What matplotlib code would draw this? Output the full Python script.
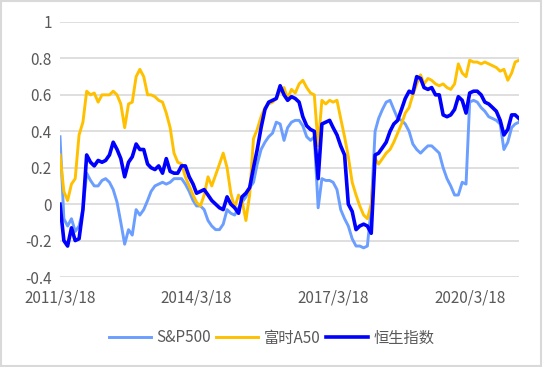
import numpy as np
import pandas as pd
import matplotlib
matplotlib.use('Agg')
import matplotlib.pyplot as plt
from matplotlib.patches import Rectangle

plt.rcParams['font.family'] = ['Noto Sans CJK SC', 'DejaVu Sans']

# Donnees mensuelles (2011/3 -> 2021/4)
sp500 = [0.37, -0.08, -0.12, -0.08, -0.15, -0.12, -0.03, 0.17, 0.13, 0.10,
         0.10, 0.13, 0.14, 0.12, 0.08, 0.01, -0.10, -0.22, -0.14, -0.17,
         -0.03, -0.06, -0.03, 0.02, 0.07, 0.10, 0.11, 0.12, 0.11, 0.12,
         0.14, 0.14, 0.14, 0.11, 0.07, 0.02, -0.01, -0.01, -0.03, -0.09,
         -0.12, -0.14, -0.14, -0.11, -0.03, -0.05, -0.06, -0.02, 0.01, 0.04,
         0.09, 0.12, 0.22, 0.30, 0.34, 0.37, 0.39, 0.45, 0.44, 0.35,
         0.42, 0.45, 0.46, 0.46, 0.43, 0.37, 0.35, 0.37, -0.02, 0.14,
         0.13, 0.13, 0.12, 0.08, -0.03, -0.08, -0.12, -0.19, -0.23, -0.23,
         -0.24, -0.23, -0.02, 0.40, 0.47, 0.52, 0.56, 0.57, 0.52, 0.47,
         0.46, 0.44, 0.40, 0.33, 0.30, 0.28, 0.30, 0.32, 0.32, 0.30,
         0.28, 0.20, 0.14, 0.10, 0.05, 0.05, 0.12, 0.11, 0.56, 0.57,
         0.56, 0.53, 0.51, 0.48, 0.47, 0.46, 0.44, 0.30, 0.34, 0.42,
         0.44, 0.45]

a50 = [0.27, 0.07, 0.02, 0.11, 0.14, 0.38, 0.45, 0.62, 0.60, 0.61,
       0.56, 0.60, 0.60, 0.60, 0.62, 0.60, 0.55, 0.42, 0.55, 0.56,
       0.70, 0.74, 0.70, 0.60, 0.60, 0.59, 0.57, 0.56, 0.50, 0.42,
       0.28, 0.23, 0.22, 0.15, 0.10, 0.05, 0.01, -0.01, 0.05, 0.15,
       0.10, 0.16, 0.22, 0.28, 0.20, 0.06, -0.02, 0.05, 0.02, -0.09,
       0.05, 0.36, 0.41, 0.48, 0.53, 0.55, 0.56, 0.58, 0.62, 0.64,
       0.58, 0.63, 0.61, 0.66, 0.68, 0.64, 0.61, 0.60, 0.32, 0.57,
       0.55, 0.57, 0.56, 0.57, 0.47, 0.37, 0.26, 0.12, 0.05, -0.01,
       -0.06, -0.08, 0.00, 0.25, 0.22, 0.25, 0.28, 0.30, 0.34, 0.39,
       0.44, 0.50, 0.53, 0.60, 0.66, 0.71, 0.66, 0.69, 0.68, 0.66,
       0.65, 0.66, 0.64, 0.63, 0.66, 0.77, 0.72, 0.70, 0.79, 0.78,
       0.78, 0.77, 0.78, 0.77, 0.76, 0.75, 0.73, 0.74, 0.68, 0.72,
       0.78, 0.79]

hsi = [0.00, -0.20, -0.23, -0.13, -0.20, -0.19, -0.03, 0.27, 0.23, 0.21,
       0.24, 0.23, 0.24, 0.27, 0.34, 0.30, 0.25, 0.15, 0.23, 0.26,
       0.33, 0.30, 0.30, 0.22, 0.20, 0.19, 0.21, 0.17, 0.25, 0.18,
       0.17, 0.17, 0.21, 0.21, 0.15, 0.11, 0.06, 0.07, 0.08, 0.05,
       0.02, 0.00, -0.02, -0.03, 0.04, 0.00, -0.02, -0.05, 0.04, 0.06,
       0.09, 0.20, 0.30, 0.42, 0.52, 0.56, 0.57, 0.58, 0.65, 0.60,
       0.57, 0.59, 0.58, 0.56, 0.48, 0.43, 0.41, 0.40, 0.14, 0.44,
       0.45, 0.46, 0.42, 0.38, 0.32, 0.27, 0.00, -0.04, -0.14, -0.12,
       -0.11, -0.12, -0.16, 0.27, 0.28, 0.31, 0.34, 0.40, 0.44, 0.46,
       0.52, 0.58, 0.62, 0.61, 0.70, 0.69, 0.64, 0.63, 0.64, 0.60,
       0.60, 0.49, 0.48, 0.49, 0.52, 0.59, 0.57, 0.50, 0.61, 0.62,
       0.62, 0.60, 0.56, 0.55, 0.53, 0.51, 0.46, 0.38, 0.41, 0.49,
       0.49, 0.47]

start = pd.Timestamp('2011-03-18')
dates = [start + pd.DateOffset(months=i) for i in range(len(sp500))]
tick_dates = [start + pd.DateOffset(years=y) for y in [0, 3, 6, 9]]
tick_labels = [f"{d.year}/{d.month}/{d.day}" for d in tick_dates]
y_ticks = [-0.4, -0.2, 0, 0.2, 0.4, 0.6, 0.8, 1]
y_labels = ['-0.4', '-0.2', '0', '0.2', '0.4', '0.6', '0.8', '1']

fig = plt.figure(figsize=(5.43, 3.67), dpi=100)
ax = fig.add_axes([60 / 543, 1 - 277 / 367, 459 / 543, 255 / 367])

ax.plot(dates, sp500, color='#6B9EFF', linewidth=2.1, label='S&P500')
ax.plot(dates, a50, color='#FFC000', linewidth=2.1, label='富时A50')
ax.plot(dates, hsi, color='#0000FF', linewidth=2.6, label='恒生指数')

ax.set_xlim(dates[0], dates[-1])
ax.set_ylim(-0.4, 1)
ax.set_yticks(y_ticks)
ax.set_yticklabels(y_labels)
ax.set_xticks(tick_dates)
ax.set_xticklabels(tick_labels)
ax.tick_params(length=0, labelsize=11, colors='#595959')
ax.tick_params(axis='y', pad=6)
ax.tick_params(axis='x', pad=9)
ax.grid(True, axis='y', color='#d9d9d9', linewidth=1.2)
ax.set_axisbelow(True)
for s in ax.spines.values():
    s.set_visible(False)

fig.legend(loc='center', bbox_to_anchor=(0.5, 1 - 338 / 367), ncol=3,
           frameon=False, fontsize=11, handlelength=2.75, handletextpad=0.35,
           columnspacing=0.35, labelcolor='#595959')

fig.patches.append(Rectangle((0.002, 0.003), 0.994, 0.994, transform=fig.transFigure,
                             fill=False, edgecolor='#d9d9d9', linewidth=1.5))

fig.savefig('out.png', dpi=100)
